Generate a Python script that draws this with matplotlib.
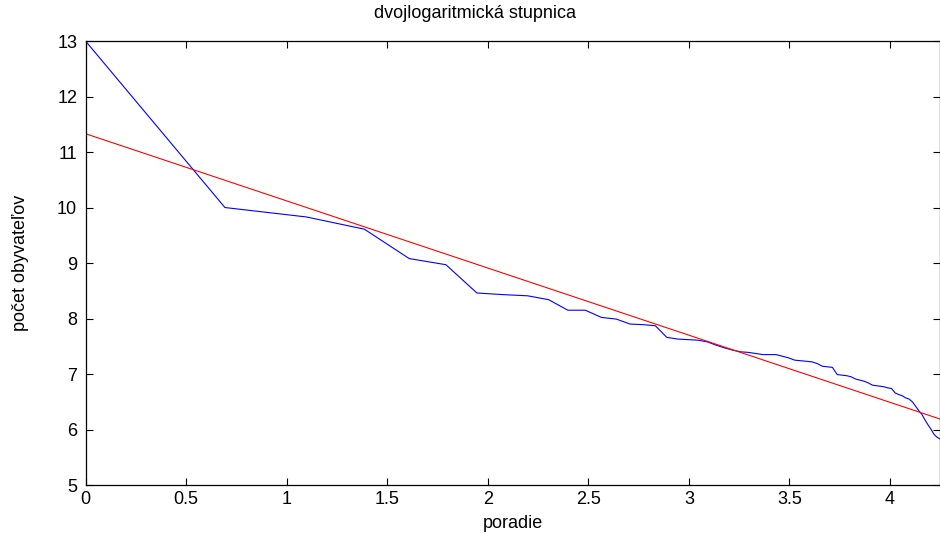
import numpy as np
import matplotlib
matplotlib.use("Agg")
import matplotlib.pyplot as plt

plt.rcParams['font.family'] = ['Liberation Sans', 'DejaVu Sans']

# poradie miest 1..70, log pocet obyvatelov (odcitane z grafu)
ranks = np.arange(1, 71)
log_pop = [13.00, 10.00, 9.83, 9.61, 9.08, 8.97, 8.46, 8.43, 8.41, 8.34,
           8.15, 8.15, 8.02, 7.99, 7.90, 7.89, 7.87, 7.66, 7.63, 7.62,
           7.61, 7.58, 7.52, 7.47, 7.43, 7.40, 7.39, 7.37, 7.35, 7.35,
           7.35, 7.32, 7.29, 7.25, 7.24, 7.23, 7.22, 7.19, 7.14, 7.13,
           7.12, 6.99, 6.98, 6.97, 6.95, 6.91, 6.89, 6.87, 6.84, 6.80,
           6.79, 6.78, 6.77, 6.75, 6.74, 6.66, 6.63, 6.61, 6.57, 6.55,
           6.50, 6.42, 6.34, 6.27, 6.17, 6.08, 6.00, 5.91, 5.86, 5.83]

# linearna regresia (odcitana z grafu)
fit_intercept = 11.33
fit_slope = -1.21

xticks = [0, 0.5, 1, 1.5, 2, 2.5, 3, 3.5, 4]
xticklabels = ["0", "0.5", "1", "1.5", "2", "2.5", "3", "3.5", "4"]
yticks = list(range(5, 14))

x = np.log(ranks)

fig = plt.figure(figsize=(9.4, 5.33), dpi=100)
ax = fig.add_axes([0.091, 0.09, 0.909, 0.833])

ax.plot(x, log_pop, color="blue", lw=0.8)
xf = np.array([0, x[-1]])
ax.plot(xf, fit_intercept + fit_slope * xf, color="red", lw=0.8)

ax.set_xlim(0, x[-1])
ax.set_ylim(5, 13)
ax.set_xticks(xticks)
ax.set_xticklabels(xticklabels)
ax.set_yticks(yticks)
ax.tick_params(direction="in", top=True, right=True, length=5, width=0.8,
               labelsize=13)
ax.tick_params(axis="x", pad=4)
ax.tick_params(axis="y", pad=6)
for s in ax.spines.values():
    s.set_linewidth(0.9)

fig.text(0.505, 0.974, "dvojlogaritmická stupnica", fontsize=13,
         ha="center", va="center")
ax.set_xlabel("poradie", fontsize=13, labelpad=5)
ax.set_ylabel("počet obyvateľov", fontsize=13, labelpad=20)

fig.savefig("out.png", dpi=100)
